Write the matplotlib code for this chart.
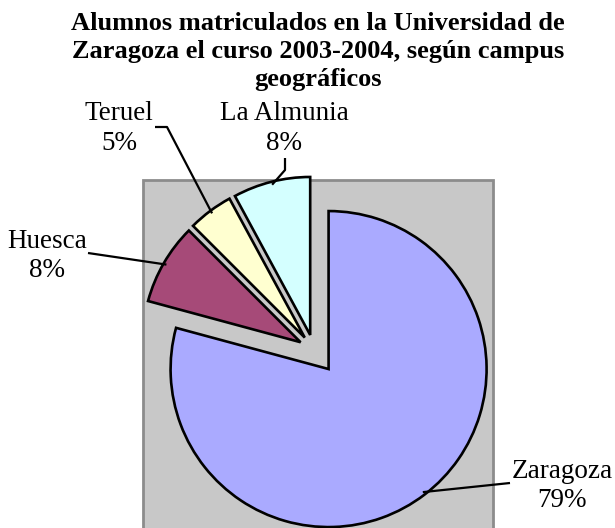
import numpy as np
import matplotlib
matplotlib.use("Agg")
import matplotlib.pyplot as plt
from matplotlib.patches import Rectangle

# ---- data ----
categories = ["Zaragoza", "Huesca", "Teruel", "La Almunia"]
shares = [79.2, 8.3, 4.6, 7.9]
colors = ["#AAAAFF", "#A64A78", "#FFFFD0", "#D4FFFF"]
title_lines = ["Alumnos matriculados en la Universidad de",
               "Zaragoza el curso 2003-2004, según campus",
               "geográficos"]

W, H = 615, 528
plt.rcParams['font.family'] = ['Liberation Serif', 'DejaVu Serif']

fig = plt.figure(figsize=(W / 100, H / 100), dpi=100)
ax = fig.add_axes([0, 0, 1, 1])


def P(x, y):
    return (x, H - y)


# plot area
x0, y0, x1 = 143, 180, 493
ax.add_patch(Rectangle(P(x0, H + 10), x1 - x0, (H + 10) - y0,
                       facecolor="#C8C8C8", edgecolor="#8C8C8C", lw=2.0, zorder=1))

R = 158
center = P(314, 350)
explode = [24, 15.5, 15.5, 15.5]  # in pixel units
wedges, _ = ax.pie(shares, colors=colors, startangle=90, counterclock=False,
                   explode=explode, radius=R, center=center, frame=True,
                   wedgeprops=dict(edgecolor="black", linewidth=1.9, zorder=3))
ax.set_xlim(0, W)
ax.set_ylim(0, H)
ax.set_aspect('equal')
ax.axis('off')

# label positions: (center x, baseline of name, baseline of pct) in pixels
label_pos = {"Zaragoza": (562, 478, 507), "Huesca": (47, 248, 277),
             "Teruel": (119, 120, 150), "La Almunia": (284, 120, 150)}
leader_start = {"Zaragoza": [(510, 483)], "Huesca": [(88, 253)],
                "Teruel": [(155, 127), (167, 127)], "La Almunia": [(285, 158), (285, 170)]}

total = sum(shares)
for w, name, val in zip(wedges, categories, shares):
    mid = np.deg2rad((w.theta1 + w.theta2) / 2)
    cx, cy = w.center
    ex = cx + w.r * np.cos(mid)
    ey = cy + w.r * np.sin(mid)
    pts = [P(*p) for p in leader_start[name]] + [(ex - 3 * np.cos(mid), ey - 3 * np.sin(mid))]
    xs, ys = zip(*pts)
    ax.plot(xs, ys, color="black", lw=1.6, zorder=4, solid_capstyle='butt')
    lx, b1, b2 = label_pos[name]
    ax.text(*P(lx, b1), name, ha="center", va="baseline", fontsize=19.5, zorder=5)
    ax.text(*P(lx, b2), f"{val / total * 100:.0f}%", ha="center", va="baseline",
            fontsize=19.5, zorder=5)

for i, line in enumerate(title_lines):
    ax.text(*P(318, 30 + 28 * i), line, ha="center", va="baseline", fontsize=19,
            fontweight="bold", zorder=5)

fig.savefig("out.png", dpi=100)
